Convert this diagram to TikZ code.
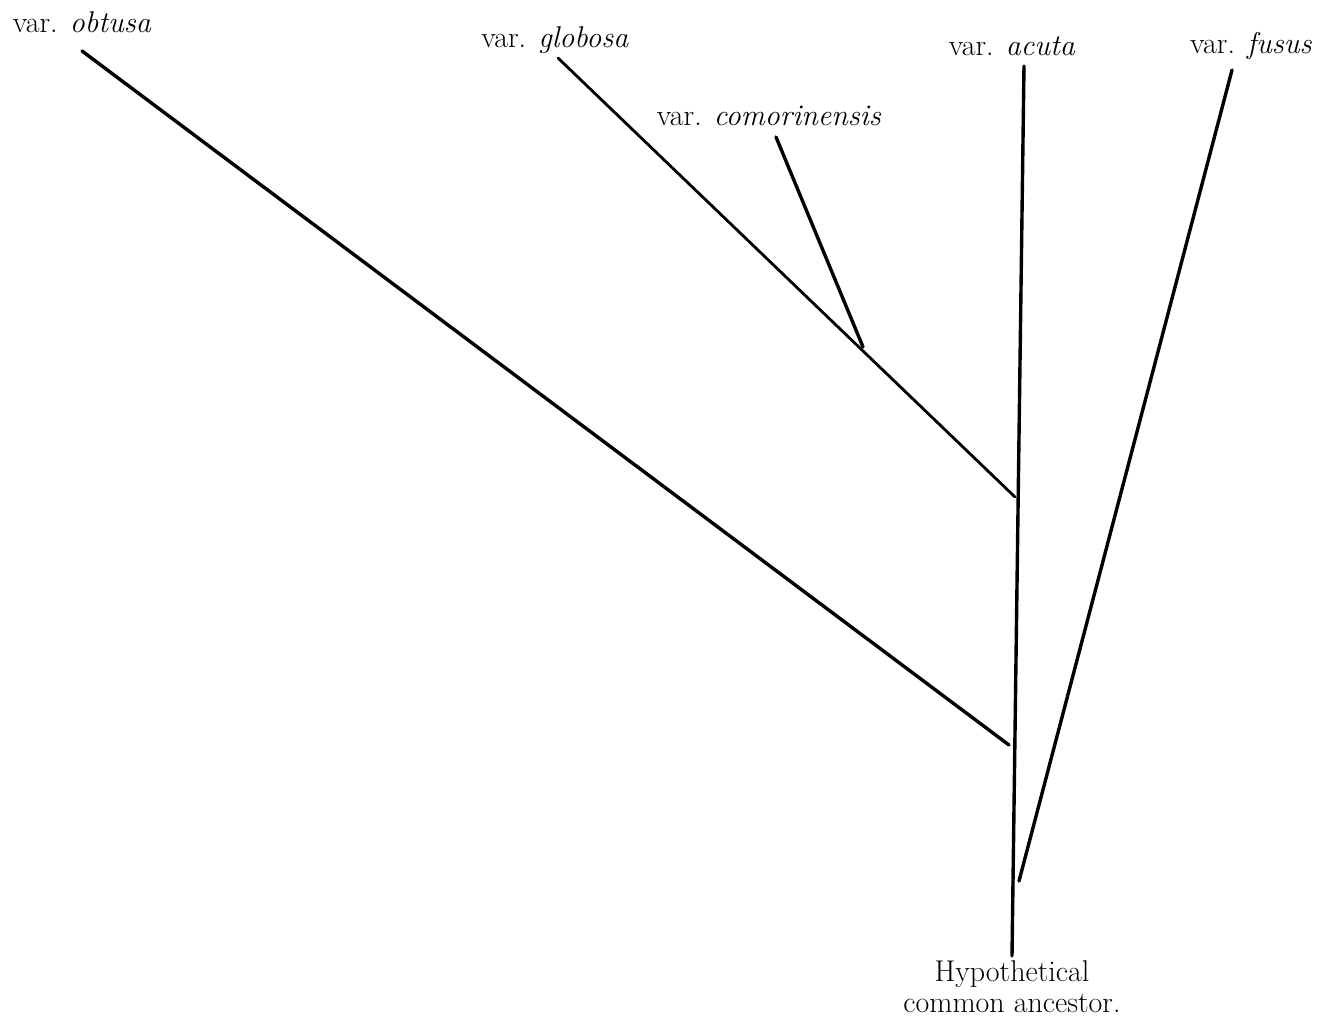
\documentclass[tikz,border=0pt]{standalone}
\begin{document}
\begin{tikzpicture}[x=1pt,y=-1pt,
  lbl/.style={font=\fontsize{30}{31}\selectfont, inner sep=0pt},
  branch/.style={line width=3.4pt, line cap=round}]
\useasboundingbox (0,0) rectangle (1318,1019);
% labels
\node[lbl] (Lob) at (82,22) {var. \textit{obtusa}};
\node[lbl] (Lgl) at (555,40) {var. \textit{globosa}};
\node[lbl] (Lco) at (769,116) {var. \textit{comorinensis}};
\node[lbl] (Lac) at (1012,46) {var. \textit{acuta}};
\node[lbl] (Lfu) at (1251,46) {var. \textit{fusus}};
\node[lbl, align=center] (Lhy) at (1012,987) {Hypothetical\\common ancestor.};
% coordinates
\coordinate (ob1) at (82,51);
\coordinate (ob2) at (1009,745);
\coordinate (gl1) at (558,58);
\coordinate (gl2) at (1015,497);
\coordinate (co1) at (776,137);
\coordinate (co2) at (863,347);
\coordinate (ac1) at (1024,66);
\coordinate (ac2) at (1012,956);
\coordinate (fu1) at (1232,70);
\coordinate (fu2) at (1019,881);
% branches
\draw[branch] (ob1) -- (ob2);
\draw[branch, line width=2.8pt] (gl1) -- (gl2);
\draw[branch] (co1) -- (co2);
\draw[branch] (ac1) -- (ac2);
\draw[branch] (fu1) -- (fu2);
\end{tikzpicture}
\end{document}
